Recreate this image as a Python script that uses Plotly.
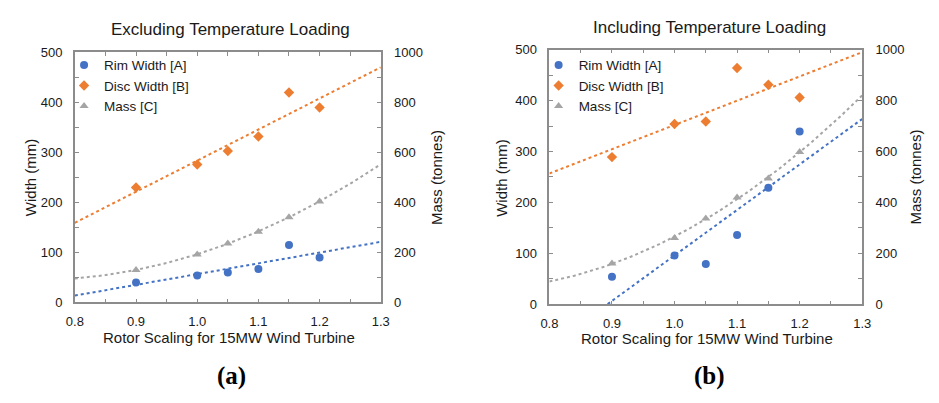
import numpy as np
import plotly.graph_objects as go

# ---- data ----
scaling = [0.9, 1.0, 1.05, 1.1, 1.15, 1.2]
a_rim = [40, 54, 60, 67, 115, 90]
a_disc = [230, 276, 303, 332, 420, 390]
a_mass = [130, 192, 236, 283, 341, 404]
b_rim = [54, 96, 79, 136, 229, 339]
b_disc = [289, 354, 359, 464, 431, 406]
b_mass = [160, 260, 337, 419, 494, 598]
x_ticks = [0.8, 0.9, 1.0, 1.1, 1.2, 1.3]
panel_titles = ["Excluding Temperature Loading", "Including Temperature Loading"]
panel_labels = ["(a)", "(b)"]
series_names = ["Rim Width [A]", "Disc Width [B]", "Mass [C]"]

BLUE = "#4472C4"
ORANGE = "#ED7D31"
GRAY = "#A5A5A5"
AXC = "#8c8c8c"
TXT = "#1a1a1a"
FONT = "Liberation Sans, Arial, sans-serif"

fig = go.Figure()
xfit = np.linspace(0.8, 1.3, 101)


def trend(y, deg):
    c = np.polyfit(scaling, y, deg)
    return np.polyval(c, xfit)


panels = [
    dict(rim=a_rim, disc=a_disc, mass=a_mass, xa="x", ya="y", ya2="y2", leg="legend"),
    dict(rim=b_rim, disc=b_disc, mass=b_mass, xa="x2", ya="y3", ya2="y4", leg="legend2"),
]

for p in panels:
    fig.add_trace(go.Scatter(x=xfit, y=trend(p["rim"], 1), mode="lines",
                             line=dict(color=BLUE, width=2, dash="dot"),
                             xaxis=p["xa"], yaxis=p["ya"], showlegend=False, hoverinfo="skip"))
    fig.add_trace(go.Scatter(x=xfit, y=trend(p["disc"], 1), mode="lines",
                             line=dict(color=ORANGE, width=2, dash="dot"),
                             xaxis=p["xa"], yaxis=p["ya"], showlegend=False, hoverinfo="skip"))
    fig.add_trace(go.Scatter(x=xfit, y=trend(p["mass"], 2), mode="lines",
                             line=dict(color=GRAY, width=2, dash="dot"),
                             xaxis=p["xa"], yaxis=p["ya2"], showlegend=False, hoverinfo="skip"))
    fig.add_trace(go.Scatter(x=scaling, y=p["rim"], mode="markers", name=series_names[0],
                             marker=dict(color=BLUE, size=8, symbol="circle"),
                             xaxis=p["xa"], yaxis=p["ya"], legend=p["leg"]))
    fig.add_trace(go.Scatter(x=scaling, y=p["disc"], mode="markers", name=series_names[1],
                             marker=dict(color=ORANGE, size=8, symbol="diamond"),
                             xaxis=p["xa"], yaxis=p["ya"], legend=p["leg"]))
    fig.add_trace(go.Scatter(x=scaling, y=p["mass"], mode="markers", name=series_names[2],
                             marker=dict(color=GRAY, size=8, symbol="triangle-up"),
                             xaxis=p["xa"], yaxis=p["ya2"], legend=p["leg"]))

# page body has an 8px margin on every side: keep the figure inside the window
OFF = 8
W, H = 939 - 2 * OFF, 403 - 2 * OFF
L1, R1, T1, B1 = 67, 379, 47, 307
L2, R2, T2, B2 = 551, 870, 44, 309


def fx(px):
    return (px - OFF) / W


def fy(py):
    return 1 - (py - OFF) / H


tickfont = dict(family=FONT, size=13, color=TXT)


def xaxis(l, r, anchor):
    return dict(domain=[fx(l), fx(r)], anchor=anchor, range=[0.8, 1.3], tickvals=x_ticks,
                ticktext=[f"{v:.1f}" for v in x_ticks],
                ticks="inside", ticklen=4, tickcolor=AXC, showline=True, linecolor=AXC,
                linewidth=1.5, mirror="ticks", showgrid=False, zeroline=False,
                minor=dict(tickvals=[0.85, 0.95, 1.05, 1.15, 1.25], ticks="inside",
                           ticklen=4, tickcolor=AXC),
                tickfont=tickfont, ticklabelstandoff=6)


def yleft(t, b, anchor):
    return dict(domain=[fy(b), fy(t)], anchor=anchor, range=[0, 500], dtick=100,
                ticks="inside", ticklen=4, tickcolor=AXC, showline=True, linecolor=AXC,
                linewidth=1.5, showgrid=False, zeroline=False,
                minor=dict(dtick=50, ticks="inside", ticklen=4, tickcolor=AXC),
                tickfont=tickfont, ticklabelstandoff=8)


def yright(overlay, anchor):
    return dict(overlaying=overlay, anchor=anchor, side="right", range=[0, 1000], dtick=200,
                ticks="inside", ticklen=4, tickcolor=AXC, showline=True, linecolor=AXC,
                linewidth=1.5, showgrid=False, zeroline=False,
                minor=dict(dtick=100, ticks="inside", ticklen=4, tickcolor=AXC),
                tickfont=tickfont, ticklabelstandoff=9)


legend_common = dict(font=dict(family=FONT, size=13.5, color=TXT), bgcolor="rgba(0,0,0,0)",
                     itemwidth=30, tracegroupgap=0, xanchor="left", yanchor="top",
                     traceorder="normal")

fig.update_layout(
    width=W, height=H, margin=dict(l=0, r=0, t=0, b=0),
    paper_bgcolor="white", plot_bgcolor="white",
    font=dict(family=FONT, color=TXT),
    xaxis=xaxis(L1, R1, "y"),
    yaxis=yleft(T1, B1, "x"),
    yaxis2=yright("y", "x"),
    xaxis2=xaxis(L2, R2, "y3"),
    yaxis3=yleft(T2, B2, "x2"),
    yaxis4=yright("y3", "x2"),
    legend=dict(x=fx(L1 - 11), y=fy(44), **legend_common),
    legend2=dict(x=fx(L2 - 11), y=fy(44), **legend_common),
)

ann = []
centers = [((L1 + R1) / 2 + 3, 23), ((L2 + R2) / 2 + 4, 21)]
for (cx, cy), t in zip(centers, panel_titles):
    ann.append(dict(text=t, x=fx(cx), y=fy(cy), xref="paper", yref="paper",
                    xanchor="center", yanchor="middle",
                    showarrow=False, font=dict(family=FONT, size=17, color=TXT)))
for (lx, rx, bot), lab in zip([(L1, R1, B1), (L2, R2, B2)], panel_labels):
    ann.append(dict(text="Rotor Scaling for 15MW Wind Turbine", x=fx((lx + rx) / 2 + 1),
                    y=fy(bot + 36), xref="paper", yref="paper", showarrow=False,
                    xanchor="center", yanchor="middle",
                    font=dict(family=FONT, size=15, color=TXT)))
    ann.append(dict(text=f"<b>{lab}</b>", x=fx((lx + rx) / 2 + 4), y=fy(384),
                    xref="paper", yref="paper", showarrow=False,
                    xanchor="center", yanchor="middle",
                    font=dict(family="Liberation Serif, serif", size=25, color="black")))
for xc, t in [(22, "Width (mm)"), (436, "Mass (tonnes)"), (502, "Width (mm)"), (924, "Mass (tonnes)")]:
    ann.append(dict(text=t, x=fx(xc), y=fy(177), xref="paper", yref="paper",
                    showarrow=False, textangle=-90, xanchor="center", yanchor="middle",
                    font=dict(family=FONT, size=15, color=TXT)))
fig.update_layout(annotations=ann)

fig.write_html("out.html")
